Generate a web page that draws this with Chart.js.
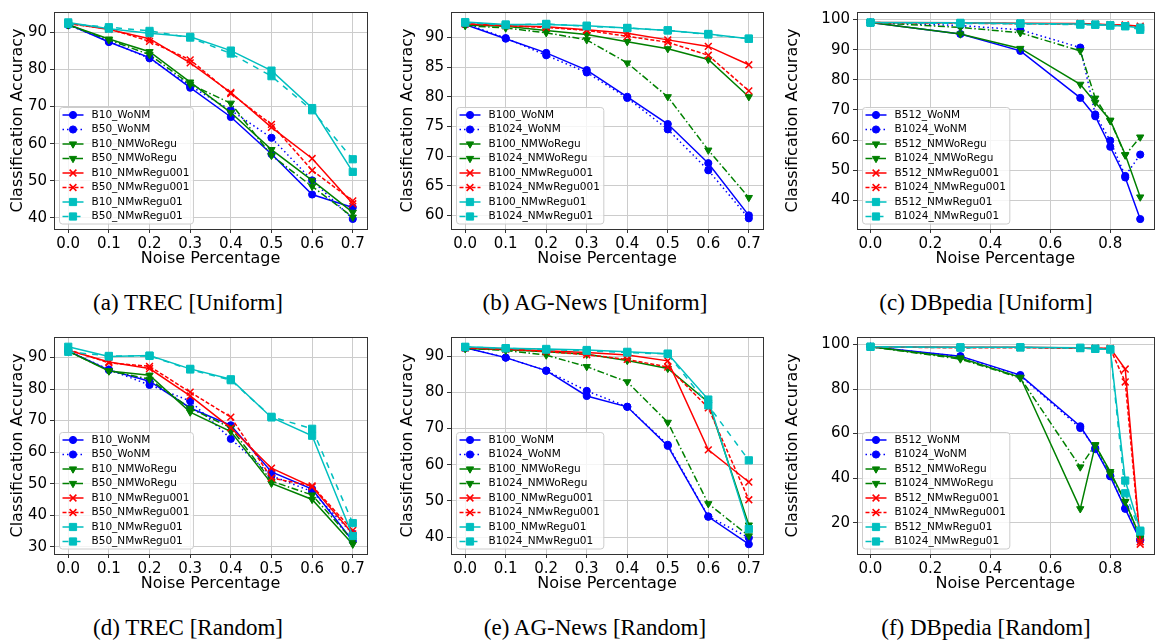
<!DOCTYPE html>
<html>
<head>
<meta charset="utf-8">
<script src="https://cdn.jsdelivr.net/npm/chart.js@4.4.0/dist/chart.umd.min.js"></script>
<style>
  body { margin: 0; background: #fff; width: 1158px; height: 644px; overflow: hidden; position: relative; }
  canvas { position: absolute; }
  .cap { position: absolute; font-family: 'Liberation Serif', serif; font-size: 23px; color: #000; white-space: nowrap; transform: translate(-50%, -50%); }
</style>
</head>
<body>
<canvas id="chartA" width="385" height="270" style="left:0px;top:0px"></canvas>
<canvas id="chartB" width="385" height="270" style="left:390px;top:0px"></canvas>
<canvas id="chartC" width="385" height="270" style="left:775px;top:0px"></canvas>
<canvas id="chartD" width="385" height="270" style="left:0px;top:325px"></canvas>
<canvas id="chartE" width="385" height="270" style="left:390px;top:325px"></canvas>
<canvas id="chartF" width="385" height="270" style="left:775px;top:325px"></canvas>

<div class="cap" style="left:188px;top:303px">(a) TREC [Uniform]</div>
<div class="cap" style="left:595px;top:303px">(b) AG-News [Uniform]</div>
<div class="cap" style="left:986px;top:303px">(c) DBpedia [Uniform]</div>
<div class="cap" style="left:188px;top:628px">(d) TREC [Random]</div>
<div class="cap" style="left:595px;top:628px">(e) AG-News [Random]</div>
<div class="cap" style="left:986px;top:628px">(f) DBpedia [Random]</div>

<script>
// x values
const noise = [0, 0.1, 0.2, 0.3, 0.4, 0.5, 0.6, 0.7];
const noiseDb = [0, 0.3, 0.5, 0.7, 0.75, 0.8, 0.85, 0.9];

// tick labels
const xTicks = [0, 0.1, 0.2, 0.3, 0.4, 0.5, 0.6, 0.7];
const xTicksDb = [0, 0.2, 0.4, 0.6, 0.8];
const yTicksA = [40, 50, 60, 70, 80, 90];
const yTicksB = [60, 65, 70, 75, 80, 85, 90];
const yTicksC = [40, 50, 60, 70, 80, 90, 100];
const yTicksD = [30, 40, 50, 60, 70, 80, 90];
const yTicksE = [40, 50, 60, 70, 80, 90];
const yTicksF = [20, 40, 60, 80, 100];

// series names
const labelsTrec = ['B10_WoNM', 'B50_WoNM', 'B10_NMWoRegu', 'B50_NMWoRegu',
  'B10_NMwRegu001', 'B50_NMwRegu001', 'B10_NMwRegu01', 'B50_NMwRegu01'];
const labelsAg = ['B100_WoNM', 'B1024_WoNM', 'B100_NMWoRegu', 'B1024_NMWoRegu',
  'B100_NMwRegu001', 'B1024_NMwRegu001', 'B100_NMwRegu01', 'B1024_NMwRegu01'];
const labelsDb = ['B512_WoNM', 'B1024_WoNM', 'B512_NMWoRegu', 'B1024_NMWoRegu',
  'B512_NMwRegu001', 'B1024_NMwRegu001', 'B512_NMwRegu01', 'B1024_NMwRegu01'];

// (a) TREC uniform
const aB10WoNM       = [92.2, 87.4, 83.2, 75.1, 67.2, 57.2, 46.3, 42.8];
const aB50WoNM       = [92.0, 87.6, 83.0, 75.6, 69.0, 61.6, 50.1, 39.7];
const aB10NMWoRegu   = [92.1, 88.2, 84.8, 76.6, 68.4, 58.4, 50.1, 41.5];
const aB50NMWoRegu   = [92.0, 88.0, 84.0, 76.0, 70.9, 56.8, 48.5, 40.2];
const aB10NMwRegu001 = [92.5, 90.8, 88.3, 81.8, 73.8, 64.4, 56.0, 43.8];
const aB50NMwRegu001 = [92.3, 91.0, 87.6, 82.6, 73.5, 65.2, 52.8, 44.6];
const aB10NMwRegu01  = [92.7, 91.0, 89.8, 88.8, 85.1, 79.7, 69.6, 52.4];
const aB50NMwRegu01  = [92.3, 91.4, 90.4, 88.6, 84.3, 78.2, 69.0, 55.8];

// (b) AG-News uniform
const bB100WoNM        = [92.2, 89.8, 87.4, 84.5, 80.0, 75.4, 68.8, 60.0];
const bB1024WoNM       = [92.3, 89.9, 87.0, 84.1, 79.8, 74.5, 67.6, 59.5];
const bB100NMWoRegu    = [92.1, 91.9, 91.2, 90.5, 89.3, 88.1, 86.3, 80.0];
const bB1024NMWoRegu   = [92.0, 91.6, 90.8, 89.6, 85.7, 80.0, 71.0, 63.0];
const bB100NMwRegu001  = [92.3, 92.0, 91.8, 91.3, 90.7, 89.6, 88.5, 85.4];
const bB1024NMwRegu001 = [92.3, 92.0, 91.7, 91.2, 90.2, 89.2, 87.0, 81.0];
const bB100NMwRegu01   = [92.6, 92.2, 92.2, 92.0, 91.6, 91.2, 90.6, 89.8];
const bB1024NMwRegu01  = [92.5, 92.1, 92.3, 91.9, 91.6, 91.2, 90.5, 89.8];

// (c) DBpedia uniform
const cB512WoNM        = [99.0, 95.2, 89.6, 74.0, 67.9, 57.8, 47.6, 33.8];
const cB1024WoNM       = [99.0, 98.0, 96.6, 90.7, 68.5, 59.8, 48.1, 55.2];
const cB512NMWoRegu    = [99.0, 95.2, 90.4, 78.5, 72.5, 66.6, 55.2, 41.1];
const cB1024NMWoRegu   = [99.0, 97.4, 95.6, 89.6, 73.9, 66.4, 55.0, 61.0];
const cB512NMwRegu001  = [99.0, 98.9, 98.8, 98.7, 98.5, 98.3, 98.2, 97.8];
const cB1024NMwRegu001 = [99.0, 98.8, 98.6, 98.5, 98.4, 98.2, 98.0, 97.5];
const cB512NMwRegu01   = [99.0, 98.9, 98.7, 98.5, 98.3, 98.1, 97.8, 97.3];
const cB1024NMwRegu01  = [99.0, 98.7, 98.6, 98.3, 98.3, 98.0, 97.8, 96.6];

// (d) TREC random
const dB10WoNM       = [92.1, 86.0, 82.5, 74.0, 68.5, 53.7, 48.3, 31.8];
const dB50WoNM       = [92.0, 86.2, 81.3, 76.2, 64.2, 52.5, 47.5, 34.1];
const dB10NMWoRegu   = [92.0, 85.7, 84.4, 72.7, 66.5, 50.1, 45.0, 30.8];
const dB50NMWoRegu   = [92.0, 85.8, 83.1, 73.9, 67.7, 50.8, 46.4, 32.0];
const dB10NMwRegu001 = [92.3, 88.6, 86.5, 77.8, 67.7, 54.9, 49.0, 34.1];
const dB50NMwRegu001 = [92.5, 88.3, 87.2, 79.0, 71.1, 51.8, 49.3, 35.2];
const dB10NMwRegu01  = [93.4, 90.3, 90.6, 86.4, 83.1, 71.0, 65.2, 33.4];
const dB50NMwRegu01  = [91.8, 90.5, 90.5, 86.2, 82.8, 71.2, 67.4, 37.5];

// (e) AG-News random
const eB100WoNM        = [92.3, 89.6, 86.0, 79.0, 76.0, 65.2, 45.6, 38.0];
const eB1024WoNM       = [92.3, 89.6, 86.0, 80.4, 76.0, 65.5, 45.7, 39.8];
const eB100NMWoRegu    = [92.1, 91.8, 91.2, 90.5, 88.8, 86.6, 77.3, 43.3];
const eB1024NMWoRegu   = [92.2, 91.6, 90.3, 87.1, 82.9, 71.7, 49.2, 40.3];
const eB100NMwRegu001  = [92.3, 92.0, 91.5, 91.0, 90.3, 88.7, 64.1, 55.2];
const eB1024NMwRegu001 = [92.3, 91.9, 91.3, 90.4, 89.1, 87.0, 75.7, 50.3];
const eB100NMwRegu01   = [92.6, 92.2, 92.0, 91.7, 91.2, 90.7, 78.0, 42.2];
const eB1024NMwRegu01  = [92.5, 92.2, 91.8, 91.5, 91.0, 90.6, 76.4, 61.2];

// (f) DBpedia random
const fB512WoNM        = [99.0, 94.8, 86.3, 63.3, 53.0, 40.8, 26.2, 12.0];
const fB1024WoNM       = [99.0, 94.6, 86.0, 62.5, 53.5, 41.0, 26.5, 12.5];
const fB512NMWoRegu    = [99.0, 94.0, 85.3, 26.2, 54.8, 42.9, 29.4, 13.5];
const fB1024NMWoRegu   = [99.0, 93.5, 85.0, 45.0, 55.0, 42.0, 29.5, 13.0];
const fB512NMwRegu001  = [99.0, 98.8, 98.8, 98.5, 98.4, 98.3, 89.0, 11.4];
const fB1024NMwRegu001 = [99.0, 98.5, 98.6, 98.3, 98.3, 98.2, 83.2, 10.3];
const fB512NMwRegu01   = [99.0, 98.8, 98.8, 98.6, 98.1, 97.8, 38.9, 16.4];
const fB1024NMwRegu01  = [99.0, 98.6, 98.7, 98.4, 98.1, 97.8, 33.2, 16.0];

Chart.defaults.font.family = "'DejaVu Sans', sans-serif";
Chart.defaults.color = '#000';

// one look per series position (same in every panel)
const styles = [
  { color: '#0000ff', point: 'circle',   rot: 0,   r: 3.6, bw: 1,   dash: [] },
  { color: '#0000ff', point: 'circle',   rot: 0,   r: 3.6, bw: 1,   dash: [1.5, 3] },
  { color: '#008000', point: 'triangle', rot: 180, r: 4.2, bw: 1,   dash: [] },
  { color: '#008000', point: 'triangle', rot: 180, r: 4.2, bw: 1,   dash: [7, 2.5, 1.5, 2.5] },
  { color: '#ff0000', point: 'crossRot', rot: 0,   r: 4.8, bw: 1.5, dash: [] },
  { color: '#ff0000', point: 'crossRot', rot: 0,   r: 4.8, bw: 1.5, dash: [4, 2] },
  { color: '#00bfbf', point: 'rect',     rot: 0,   r: 5.1, bw: 1,   dash: [] },
  { color: '#00bfbf', point: 'rect',     rot: 0,   r: 5.1, bw: 1,   dash: [6, 6] }
];

// box round the plot area, like matplotlib spines
const frame = {
  id: 'frame',
  afterDatasetsDraw(chart) {
    const a = chart.chartArea, ctx = chart.ctx;
    ctx.save();
    ctx.strokeStyle = '#333';
    ctx.lineWidth = 1;
    ctx.strokeRect(Math.round(a.left) + 0.5, Math.round(a.top) + 0.5,
      Math.round(a.right - a.left), Math.round(a.bottom - a.top));
    ctx.restore();
  }
};

// legend drawn inside the plot, lower left
const insideLegend = {
  id: 'insideLegend',
  afterDraw(chart) {
    const ctx = chart.ctx, area = chart.chartArea;
    const sets = chart.data.datasets;
    ctx.save();
    ctx.font = "10.5px 'DejaVu Sans'";
    const tw = Math.max(...sets.map(d => ctx.measureText(d.label).width));
    const rowH = 14.5, padTop = 7.5;
    const h = rowH * (sets.length - 1) + padTop * 2;
    const w = 32 + tw + 4;
    const x0 = Math.round(area.left) + 5.5, y0 = Math.round(area.bottom - 6 - h) + 0.5;
    ctx.fillStyle = 'rgba(255,255,255,0.8)';
    ctx.strokeStyle = '#cccccc';
    ctx.lineWidth = 1;
    ctx.beginPath();
    ctx.roundRect(x0, y0, w, h, 3);
    ctx.fill();
    ctx.stroke();
    sets.forEach((d, i) => {
      const y = y0 + padTop + i * rowH;
      ctx.strokeStyle = d.borderColor;
      ctx.lineWidth = d.borderWidth;
      ctx.setLineDash(d.borderDash);
      ctx.beginPath();
      ctx.moveTo(x0 + 3, y);
      ctx.lineTo(x0 + 24, y);
      ctx.stroke();
      ctx.setLineDash([]);
      ctx.fillStyle = d.pointBackgroundColor;
      ctx.strokeStyle = d.pointBorderColor;
      ctx.lineWidth = d.pointBorderWidth;
      Chart.helpers.drawPoint(ctx, {
        pointStyle: d.pointStyle, rotation: d.pointRotation,
        radius: d.pointRadius, borderWidth: d.pointBorderWidth
      }, x0 + 13.5, y);
      ctx.fillStyle = '#000';
      ctx.textBaseline = 'middle';
      ctx.textAlign = 'left';
      ctx.fillText(d.label, x0 + 32, y);
    });
    ctx.restore();
  }
};

function makePanel(id, xs, series, labels, o) {
  const datasets = series.map((vals, i) => {
    const s = styles[i];
    return {
      label: labels[i],
      data: vals.map((v, j) => ({ x: xs[j], y: v })),
      borderColor: s.color,
      backgroundColor: s.color,
      borderWidth: 1.5,
      borderDash: s.dash,
      pointStyle: s.point,
      pointRotation: s.rot,
      pointRadius: s.r,
      pointHoverRadius: s.r,
      pointBackgroundColor: s.color,
      pointBorderColor: s.color,
      pointBorderWidth: s.bw,
      tension: 0,
      order: series.length - i
    };
  });

  return new Chart(document.getElementById(id), {
    type: 'line',
    data: { datasets },
    plugins: [frame, insideLegend],
    options: {
      responsive: false,
      animation: false,
      devicePixelRatio: 1,
      layout: { padding: { left: 0, top: 6, right: o.padRight, bottom: 0 } },
      plugins: { legend: { display: false }, tooltip: { enabled: false } },
      scales: {
        x: {
          type: 'linear',
          min: o.xMin, max: o.xMax,
          afterBuildTicks: s => { s.ticks = o.xTicks.map(v => ({ value: v })); },
          afterFit: s => { s.height = 41; },
          ticks: { font: { size: 15 }, color: '#000', padding: 2, maxRotation: 0, autoSkip: false,
                   callback: v => v.toFixed(1) },
          grid: { color: '#cccccc', lineWidth: 1, tickLength: 4, tickColor: '#333' },
          border: { display: false },
          title: { display: true, text: 'Noise Percentage', font: { size: 16 }, color: '#000',
                   padding: { top: 0, bottom: 2 } }
        },
        y: {
          type: 'linear',
          min: o.yMin, max: o.yMax,
          afterBuildTicks: s => { s.ticks = o.yTicks.map(v => ({ value: v })); },
          afterFit: s => { s.width = o.yWidth; },
          ticks: { font: { size: 15 }, color: '#000', padding: 3, callback: v => v },
          grid: { color: '#cccccc', lineWidth: 1, tickLength: 4, tickColor: '#333' },
          border: { display: false },
          title: { display: true, text: 'Classification Accuracy', font: { size: 16 }, color: '#000',
                   padding: { top: 8, bottom: 0 } }
        }
      }
    }
  });
}

makePanel('chartA', noise,
  [aB10WoNM, aB50WoNM, aB10NMWoRegu, aB50NMWoRegu, aB10NMwRegu001, aB50NMwRegu001, aB10NMwRegu01, aB50NMwRegu01],
  labelsTrec, { xMin: -0.035, xMax: 0.735, xTicks, yMin: 37, yMax: 95.5, yTicks: yTicksA, yWidth: 54, padRight: 18 });

makePanel('chartB', noise,
  [bB100WoNM, bB1024WoNM, bB100NMWoRegu, bB1024NMWoRegu, bB100NMwRegu001, bB1024NMwRegu001, bB100NMwRegu01, bB1024NMwRegu01],
  labelsAg, { xMin: -0.035, xMax: 0.735, xTicks, yMin: 57.7, yMax: 94.3, yTicks: yTicksB, yWidth: 61, padRight: 12 });

makePanel('chartC', noiseDb,
  [cB512WoNM, cB1024WoNM, cB512NMWoRegu, cB1024NMWoRegu, cB512NMwRegu001, cB1024NMwRegu001, cB512NMwRegu01, cB1024NMwRegu01],
  labelsDb, { xMin: -0.045, xMax: 0.945, xTicks: xTicksDb, yMin: 30.5, yMax: 102.5, yTicks: yTicksC, yWidth: 82, padRight: 0 });

makePanel('chartD', noise,
  [dB10WoNM, dB50WoNM, dB10NMWoRegu, dB50NMWoRegu, dB10NMwRegu001, dB50NMwRegu001, dB10NMwRegu01, dB50NMwRegu01],
  labelsTrec, { xMin: -0.035, xMax: 0.735, xTicks, yMin: 27.7, yMax: 96.5, yTicks: yTicksD, yWidth: 54, padRight: 18 });

makePanel('chartE', noise,
  [eB100WoNM, eB1024WoNM, eB100NMWoRegu, eB1024NMWoRegu, eB100NMwRegu001, eB1024NMwRegu001, eB100NMwRegu01, eB1024NMwRegu01],
  labelsAg, { xMin: -0.035, xMax: 0.735, xTicks, yMin: 35.3, yMax: 95.3, yTicks: yTicksE, yWidth: 61, padRight: 12 });

makePanel('chartF', noiseDb,
  [fB512WoNM, fB1024WoNM, fB512NMWoRegu, fB1024NMWoRegu, fB512NMwRegu001, fB1024NMwRegu001, fB512NMwRegu01, fB1024NMwRegu01],
  labelsDb, { xMin: -0.045, xMax: 0.945, xTicks: xTicksDb, yMin: 5.9, yMax: 103.4, yTicks: yTicksF, yWidth: 82, padRight: 0 });
</script>
</body>
</html>
